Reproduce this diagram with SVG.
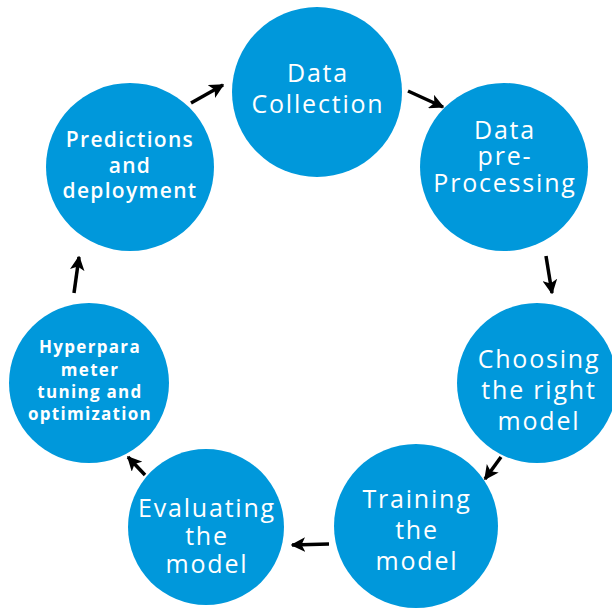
<svg xmlns="http://www.w3.org/2000/svg" width="612" height="609" viewBox="0 0 612 609">
<defs>
<marker id="ah" viewBox="0 0 10 10" refX="9" refY="5" markerWidth="4.2" markerHeight="4.2" orient="auto" markerUnits="strokeWidth">
<path d="M0,0 L10,5 L0,10 L2.5,5 Z" fill="#000"/>
</marker>
<style>
.n{fill:#0098DB;}
.t{fill:#fff;font-family:"Open Sans","Liberation Sans",sans-serif;text-anchor:middle;}
.big{font-size:25px;font-weight:500;letter-spacing:1.8px;}
.mid{font-size:21px;font-weight:600;letter-spacing:1.3px;}
.sm{font-size:17px;font-weight:700;letter-spacing:1.3px;}
.c{stroke:#000;stroke-width:3.5;fill:none;marker-end:url(#ah);}
</style>
</defs>
<rect width="612" height="609" fill="#fff"/>
<g id="connectors">
<line class="c" x1="191" y1="103" x2="223" y2="85"/>
<line class="c" x1="408" y1="91" x2="443" y2="107"/>
<line class="c" x1="546" y1="256" x2="552" y2="293"/>
<line class="c" x1="501" y1="457" x2="485" y2="479"/>
<line class="c" x1="329" y1="544" x2="292" y2="545"/>
<line class="c" x1="145" y1="475" x2="128" y2="457"/>
<line class="c" x1="74" y1="293" x2="79" y2="257"/>
</g>
<g id="data-collection">
<circle class="n" cx="317" cy="92" r="85"/>
<text class="t big" x="318" y="82">Data</text>
<text class="t big" x="318" y="113">Collection</text>
</g>
<g id="data-preprocessing">
<circle class="n" cx="504" cy="167" r="84"/>
<text class="t big" x="505" y="139">Data</text>
<text class="t big" x="505" y="165">pre-</text>
<text class="t big" x="505" y="192">Processing</text>
</g>
<g id="choosing-model">
<circle class="n" cx="537" cy="383" r="80"/>
<text class="t big" x="539" y="368">Choosing</text>
<text class="t big" x="539" y="399">the right</text>
<text class="t big" x="539" y="430">model</text>
</g>
<g id="training-model">
<circle class="n" cx="416" cy="526" r="82"/>
<text class="t big" x="417" y="508">Training</text>
<text class="t big" x="417" y="539">the</text>
<text class="t big" x="417" y="570">model</text>
</g>
<g id="evaluating-model">
<circle class="n" cx="206" cy="527" r="78"/>
<text class="t big" x="207" y="517">Evaluating</text>
<text class="t big" x="207" y="545">the</text>
<text class="t big" x="207" y="573">model</text>
</g>
<g id="hyperparameter-tuning">
<circle class="n" cx="89" cy="383" r="80"/>
<text class="t sm" x="90" y="353">Hyperpara</text>
<text class="t sm" x="90" y="376">meter</text>
<text class="t sm" x="90" y="398">tuning and</text>
<text class="t sm" x="90" y="420">optimization</text>
</g>
<g id="predictions-deployment">
<circle class="n" cx="130" cy="167" r="84"/>
<text class="t mid" x="130" y="147">Predictions</text>
<text class="t mid" x="130" y="173">and</text>
<text class="t mid" x="130" y="198">deployment</text>
</g>
</svg>
